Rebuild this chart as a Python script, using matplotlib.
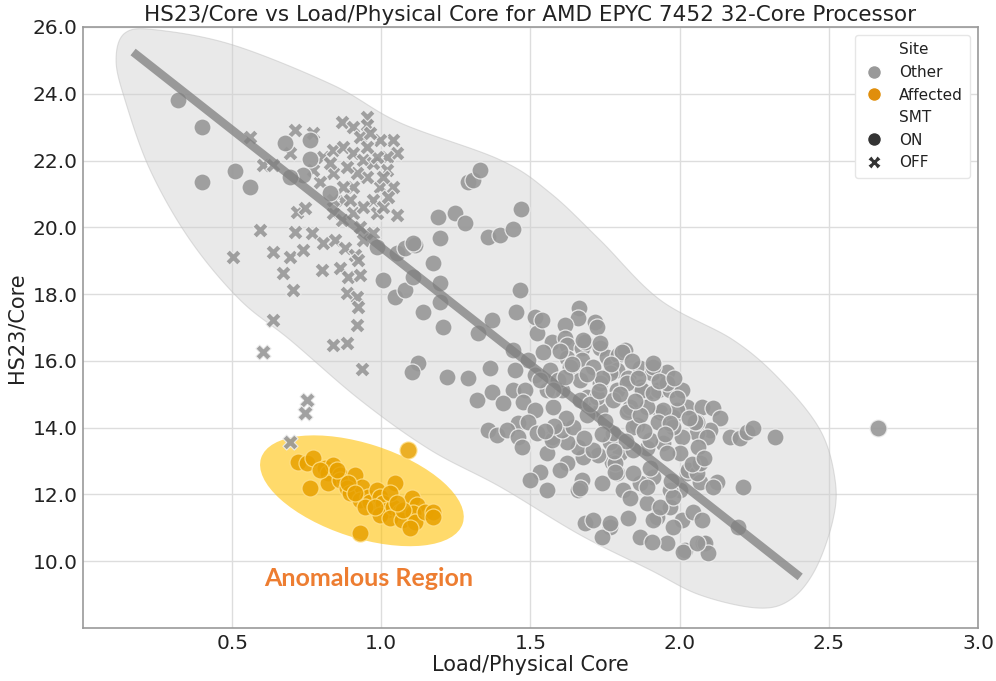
import numpy as np
import matplotlib.pyplot as plt
from matplotlib.patches import Ellipse, Polygon
from matplotlib.lines import Line2D
from matplotlib.transforms import IdentityTransform

plt.rcParams['font.family'] = ['DejaVu Sans']

# Other sites, SMT ON (circles)
other_on = [
    (0.32, 23.8), (0.40, 23.0), (0.40, 21.35), (0.51, 21.7), (0.56, 21.2), (0.677, 22.53),
    (0.761, 22.6), (0.761, 22.05), (0.738, 21.57), (0.694, 21.5), (0.828, 21.03),
    (1.006, 18.43), (1.046, 17.92), (1.079, 18.13), (0.985, 19.41), (1.053, 19.23),
    (1.079, 19.38), (1.113, 19.47), (1.106, 18.51), (1.140, 17.47), (1.197, 19.68),
    (1.190, 20.31), (1.173, 18.93), (1.197, 18.33), (1.197, 17.77), (1.207, 17.02),
    (1.247, 20.43), (1.281, 20.13), (1.291, 21.36), (1.307, 21.42), (1.331, 21.72),
    (1.358, 19.71), (1.398, 19.77), (1.371, 17.23), (1.324, 16.83), (1.468, 20.55),
    (1.441, 19.95), (1.106, 19.53), (1.465, 18.13), (1.451, 17.47), (1.441, 16.33),
    (1.492, 16.03), (1.515, 17.32), (1.522, 16.84), (1.123, 15.94), (1.103, 15.67),
    (1.220, 15.52), (1.291, 15.49), (1.364, 15.79), (1.448, 15.73), (1.515, 15.58),
    (1.321, 14.83), (1.371, 15.07), (1.358, 13.93), (1.388, 13.78),
    (1.539, 17.23), (1.663, 17.59), (1.659, 17.29), (1.716, 17.17), (1.723, 17.02),
    (1.616, 17.08), (1.572, 16.57), (1.616, 16.69), (1.622, 16.48), (1.673, 16.39),
    (1.683, 16.57), (1.733, 16.39), (1.757, 16.12), (1.793, 16.18), (1.817, 16.33),
    (1.542, 16.27), (1.622, 16.09), (1.673, 16.03), (1.710, 15.82), (1.639, 15.79),
    (1.566, 15.73), (1.441, 15.13), (1.482, 15.13), (1.475, 14.77), (1.515, 14.53),
    (1.408, 14.74), (1.458, 14.14), (1.492, 14.17), (1.421, 13.93), (1.458, 13.72),
    (1.472, 13.43), (1.576, 14.62), (1.606, 15.13), (1.555, 15.13), (1.592, 15.43),
    (1.690, 14.92), (1.790, 15.73), (1.790, 15.13), (1.827, 15.49), (1.867, 15.79),
    (1.907, 15.64), (1.958, 15.67), (1.891, 15.04), (1.928, 15.13), (1.968, 15.13),
    (2.008, 15.13), (1.867, 15.22), (1.827, 14.53), (1.857, 14.08), (1.934, 14.47),
    (1.978, 14.32), (2.025, 14.62), (2.075, 14.62), (2.112, 14.59), (2.135, 14.29),
    (2.102, 13.93), (2.058, 13.84), (2.008, 13.72), (1.944, 13.54), (1.891, 13.39),
    (1.800, 13.25), (1.773, 12.98), (1.726, 13.19), (1.676, 13.13), (1.659, 13.43),
    (1.622, 13.57), (1.572, 13.72), (1.555, 13.25), (1.622, 12.95), (1.532, 12.68),
    (1.498, 12.44), (1.555, 12.14), (1.673, 12.44), (1.659, 12.14), (1.790, 12.65),
    (1.810, 12.14), (1.834, 11.90), (1.891, 11.75), (1.924, 11.33), (1.968, 11.63),
    (2.008, 11.24), (2.045, 11.48), (2.075, 11.24), (2.078, 10.55), (2.018, 10.34),
    (1.958, 10.55), (1.867, 10.73), (1.827, 11.30), (1.767, 11.03), (1.740, 10.73),
    (1.683, 11.15), (1.710, 11.24), (2.001, 12.14), (1.968, 12.14), (2.025, 12.65),
    (2.068, 12.38), (1.911, 12.53), (1.867, 12.35), (1.740, 12.35), (1.767, 13.57),
    (1.911, 15.82), (1.958, 15.34), (2.058, 14.17), (2.092, 13.72), (2.169, 13.72),
    (2.202, 13.69), (2.226, 13.87), (2.062, 13.43), (1.991, 14.53), (1.944, 14.53),
    (1.891, 14.62), (1.834, 14.62), (1.824, 15.34), (1.874, 15.13), (1.911, 15.04),
    (1.928, 14.17), (1.978, 14.02), (1.844, 14.02), (2.001, 13.25), (1.958, 13.25),
    (1.844, 13.34), (1.901, 13.63), (2.246, 13.99), (2.320, 13.72), (2.213, 12.23),
    (2.196, 11.03), (2.665, 13.99), (2.125, 12.38), (2.112, 12.23), (2.085, 10.55),
    (2.095, 10.25), (2.011, 10.28), (1.907, 10.58), (1.767, 11.15), (1.911, 11.24),
    (1.978, 11.03), (2.058, 10.55), (1.666, 12.20), (1.599, 12.74), (1.572, 13.63),
    (1.606, 13.93), (1.643, 14.02), (1.522, 13.84), (1.710, 13.34), (1.783, 12.95),
    (1.783, 12.68), (1.844, 12.65), (1.891, 12.23), (1.934, 11.63), (1.978, 11.93),
    (2.028, 12.74), (2.058, 12.65), (2.068, 12.95), (1.777, 13.84), (1.824, 14.47),
    (1.867, 14.38), (1.968, 14.14), (1.733, 14.53), (1.690, 14.38), (1.666, 14.83),
    (1.723, 14.92), (1.767, 15.64), (1.733, 15.34), (2.052, 14.17), (1.676, 16.63),
    (1.733, 16.54), (1.807, 16.27), (1.633, 15.82), (1.666, 15.43), (1.740, 15.49),
    (1.532, 15.43), (1.576, 15.13), (1.777, 14.83), (1.616, 15.52),
    (1.80, 15.0), (1.85, 14.8), (1.75, 14.2), (1.70, 14.7), (1.88, 13.9), (1.95, 13.8),
    (1.82, 13.6), (1.78, 13.3), (1.90, 12.8), (1.97, 12.4), (2.04, 12.9), (2.08, 13.1),
    (1.86, 15.5), (1.93, 15.4), (1.99, 14.9), (2.03, 14.3), (1.62, 14.3), (1.58, 14.05),
    (1.55, 13.9), (1.68, 13.7), (1.74, 13.8), (1.64, 15.9), (1.60, 16.3), (1.69, 15.6),
    (1.77, 15.9), (1.84, 16.0), (1.91, 15.95), (1.98, 15.5), (1.73, 15.1),
]

# Other sites, SMT OFF (crosses)
other_off = [
    (0.560, 22.71), (0.637, 17.23), (0.503, 19.11), (0.593, 19.92), (0.603, 21.87),
    (0.637, 21.87), (0.711, 22.92), (0.771, 22.83), (0.694, 22.23), (0.637, 19.26),
    (0.694, 19.11), (0.670, 18.63), (0.704, 18.13), (0.738, 19.32), (0.711, 19.86),
    (0.717, 20.46), (0.744, 20.58), (0.768, 19.83), (0.801, 18.72), (0.805, 19.53),
    (0.845, 19.62), (0.862, 18.78), (0.888, 18.51), (0.885, 18.04), (0.919, 17.92),
    (0.922, 17.62), (0.919, 17.08), (0.878, 19.38), (0.912, 19.17), (0.929, 18.57),
    (0.922, 19.02), (0.838, 20.43), (0.868, 20.22), (0.905, 20.43), (0.872, 20.82),
    (0.929, 20.01), (1.053, 20.37), (1.039, 22.62), (1.053, 22.23), (0.952, 23.31),
    (0.952, 23.07), (0.868, 23.16), (0.905, 23.01), (0.929, 22.71), (0.996, 22.62),
    (1.019, 22.11), (1.019, 21.72), (0.996, 21.21), (0.972, 20.82), (0.939, 20.61),
    (0.905, 21.21), (0.872, 21.21), (0.838, 21.63), (0.805, 22.11), (0.838, 22.32),
    (0.872, 22.41), (0.905, 22.23), (0.939, 22.02), (0.972, 21.93), (0.952, 21.51),
    (0.919, 21.63), (0.885, 21.81), (0.795, 21.36), (0.771, 21.72), (0.828, 21.93),
    (0.985, 20.43), (1.006, 20.61), (1.039, 21.21), (0.838, 20.82), (0.895, 20.82),
    (0.939, 19.62), (0.972, 19.83), (1.006, 21.51), (0.985, 22.11), (0.952, 22.41),
    (0.962, 22.83), (1.023, 20.91), (0.603, 16.27), (0.838, 16.48), (0.885, 16.54),
    (0.935, 15.76), (0.751, 14.83), (0.744, 14.44), (0.694, 13.57),
]

# Affected site (all SMT ON)
affected = [
    (0.721, 12.98), (0.751, 12.95), (0.771, 13.10), (0.811, 12.80), (0.821, 12.65),
    (0.838, 12.89), (0.862, 12.59), (0.912, 12.59), (0.761, 12.20), (0.821, 12.35),
    (0.862, 12.44), (0.885, 12.20), (0.895, 12.05), (0.935, 12.23), (0.929, 11.84),
    (0.955, 11.93), (0.962, 11.78), (0.945, 11.63), (0.985, 12.14), (0.996, 11.93),
    (1.006, 11.75), (1.046, 12.35), (1.019, 11.54), (0.996, 11.39), (1.039, 11.63),
    (1.063, 11.48), (1.029, 11.30), (1.069, 11.24), (1.103, 11.90), (1.120, 11.69),
    (1.106, 11.45), (1.113, 11.18), (1.096, 11.00), (1.146, 11.48), (1.173, 11.48),
    (1.173, 11.33), (1.073, 11.54), (0.929, 10.85), (1.090, 13.33), (0.888, 12.35),
    (0.912, 12.05), (0.979, 11.63), (1.029, 12.05), (1.053, 11.75), (0.795, 12.74),
    (0.851, 12.74),
]

# outline of the main cluster
hull = [
    (0.111, 25.01), (0.141, 23.81), (0.225, 21.72), (0.359, 19.62), (0.526, 17.83),
    (0.694, 16.63), (0.929, 14.83), (1.163, 13.34), (1.398, 12.23), (1.666, 10.79),
    (1.901, 9.74), (2.068, 8.99), (2.260, 8.60), (2.370, 8.84), (2.454, 9.74),
    (2.514, 11.24), (2.521, 12.44), (2.471, 13.93), (2.337, 15.43), (2.179, 16.63),
    (1.934, 17.83), (1.733, 19.62), (1.566, 21.03), (1.398, 22.02), (1.063, 23.13),
    (0.838, 24.26), (0.503, 25.46), (0.248, 25.91), (0.141, 25.82),
]

fit_x = [0.168, 2.404]
fit_y = [25.25, 9.53]

anomaly_center = (0.935, 12.11)


def smooth_closed(points, n=24):
    P = np.array(points)
    m = len(P)
    t = np.linspace(0, 1, n, endpoint=False)[:, None]
    out = []
    for i in range(m):
        p0, p1, p2, p3 = P[i - 1], P[i], P[(i + 1) % m], P[(i + 2) % m]
        out.append(0.5 * (2 * p1 + (-p0 + p2) * t + (2 * p0 - 5 * p1 + 4 * p2 - p3) * t ** 2
                          + (-p0 + 3 * p1 - 3 * p2 + p3) * t ** 3))
    return np.vstack(out)


fig = plt.figure(figsize=(9.96, 6.81), dpi=100)
ax = fig.add_axes([0.0833, 0.0778, 0.8986, 0.8826])
ax.set_xlim(0, 3.0)
ax.set_ylim(8, 26)

ax.grid(True, color='#dddddd', linewidth=1.0, zorder=0)
ax.set_axisbelow(True)
for s in ax.spines.values():
    s.set_color('#999999')
    s.set_linewidth(1.2)

ax.add_patch(Polygon(smooth_closed(hull), closed=True, facecolor='#cfcfcf', alpha=0.45,
                     edgecolor='#bbbbbb', linewidth=0.8, zorder=1))

# anomalous region ellipse, sized in pixels
cx, cy = ax.transData.transform(anomaly_center)
ax.add_patch(Ellipse((cx, cy), 212, 94, angle=-18, transform=IdentityTransform(),
                     facecolor='#FFC000', alpha=0.58, edgecolor='none', zorder=1))

oo = np.array(other_on)
of = np.array(other_off)
af = np.array(affected)
ax.scatter(of[:, 0], of[:, 1], s=120, marker='X', c='#979797', edgecolors='#eeeeee',
           linewidths=0.8, alpha=0.9, zorder=3)
ax.scatter(oo[:, 0], oo[:, 1], s=150, marker='o', c='#979797', edgecolors='#eeeeee',
           linewidths=0.9, alpha=0.9, zorder=3)
ax.scatter(af[:, 0], af[:, 1], s=150, marker='o', c='#E8A100', edgecolors='#ffe08a',
           linewidths=0.9, alpha=0.85, zorder=3)

ax.plot(fit_x, fit_y, color='#7f7f7f', linewidth=6, alpha=0.75, solid_capstyle='butt', zorder=4)

ax.text(0.959, 9.47, 'Anomalous Region', color='#ED7D31', fontsize=18, fontweight='bold',
        family=['Lato', 'DejaVu Sans'], ha='center', va='center', zorder=5)

ax.set_xticks([0.5, 1.0, 1.5, 2.0, 2.5, 3.0])
ax.set_xticklabels(['0.5', '1.0', '1.5', '2.0', '2.5', '3.0'])
ax.set_yticks([10, 12, 14, 16, 18, 20, 22, 24, 26])
ax.set_yticklabels(['10.0', '12.0', '14.0', '16.0', '18.0', '20.0', '22.0', '24.0', '26.0'])
ax.tick_params(length=0, labelsize=14.5, colors='#222222', pad=4)

ax.set_xlabel('Load/Physical Core', fontsize=15, color='#222222', labelpad=2)
ax.set_ylabel('HS23/Core', fontsize=15, color='#222222', labelpad=4)
ax.set_title('HS23/Core vs Load/Physical Core for AMD EPYC 7452 32-Core Processor',
             fontsize=15.5, color='#222222', pad=4)

blank = Line2D([], [], linestyle='none')
handles = [
    blank,
    Line2D([], [], linestyle='none', marker='o', markersize=10, color='#999999', markeredgecolor='white'),
    Line2D([], [], linestyle='none', marker='o', markersize=10, color='#E08E0B', markeredgecolor='white'),
    blank,
    Line2D([], [], linestyle='none', marker='o', markersize=10, color='#333333', markeredgecolor='white'),
    Line2D([], [], linestyle='none', marker='X', markersize=10, color='#333333', markeredgecolor='white'),
]
labels = ['Site', 'Other', 'Affected', 'SMT', 'ON', 'OFF']
leg = ax.legend(handles, labels, loc='upper right', fontsize=11, frameon=True,
                labelspacing=0.5, handlelength=1.6, handletextpad=0.8, borderpad=0.5,
                borderaxespad=0.5)
leg.get_frame().set_edgecolor('#e6e6e6')
leg.get_frame().set_alpha(1.0)
for txt in leg.get_texts():
    txt.set_color('#222222')

fig.savefig('out.png', dpi=100)
